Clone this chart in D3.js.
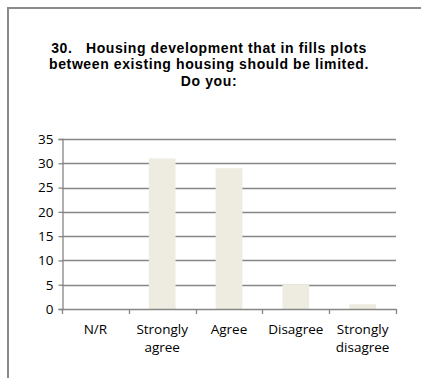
<!DOCTYPE html>
<html>
<head>
<meta charset="utf-8">
<script src="https://cdn.jsdelivr.net/npm/d3@7/dist/d3.min.js"></script>
<style>
  html, body { margin: 0; padding: 0; background: #ffffff; }
  svg { display: block; }
  text { font-family: "Open Sans", "Liberation Sans", sans-serif; fill: #000; }
</style>
</head>
<body>
<svg id="chart" width="421" height="378"></svg>
<script>
// Survey question 30 responses
const categories = ["N/R", "Strongly agree", "Agree", "Disagree", "Strongly disagree"];
const responses = [0, 31, 29, 5, 1];
const yTicks = [0, 5, 10, 15, 20, 25, 30, 35];
const titleLines = [
  "30.   Housing development that in fills plots",
  "between existing housing should be limited.",
  "Do you:"
];
const categoryLines = [["N/R"], ["Strongly", "agree"], ["Agree"], ["Disagree"], ["Strongly", "disagree"]];

const svg = d3.select("#chart");

// Frame around the chart area (continues past the right and bottom edges)
svg.append("rect")
  .attr("x", 8).attr("y", 8)
  .attr("width", 430).attr("height", 400)
  .attr("fill", "none")
  .attr("stroke", "#8a8a8a")
  .attr("stroke-width", 2);

// Title, one text element per line
svg.append("g")
  .selectAll("text")
  .data(titleLines)
  .join("text")
  .attr("x", 209)
  .attr("y", (d, i) => 52.5 + i * 16.5)
  .attr("text-anchor", "middle")
  .style("white-space", "pre")
  .style("font-family", "'Liberation Sans', Arial, sans-serif")
  .style("font-weight", "bold")
  .style("font-size", "14px")
  .style("letter-spacing", "0.6px")
  .text(d => d);

const plot = { left: 62, right: 396, top: 139, bottom: 309 };

const x = d3.scaleBand()
  .domain(categories)
  .range([plot.left, plot.right])
  .paddingInner(0.6)
  .paddingOuter(0.3);

const y = d3.scaleLinear()
  .domain([0, 35])
  .range([plot.bottom, plot.top]);

// Horizontal gridlines
svg.append("g")
  .selectAll("line")
  .data(yTicks.filter(d => d > 0))
  .join("line")
  .attr("x1", plot.left)
  .attr("x2", plot.right)
  .attr("y1", d => Math.round(y(d)) + 0.5)
  .attr("y2", d => Math.round(y(d)) + 0.5)
  .attr("stroke", "#868686")
  .attr("stroke-width", 1.3);

// Bars
svg.append("g")
  .selectAll("rect")
  .data(categories.map((c, i) => ({ c, v: responses[i] })))
  .join("rect")
  .attr("x", d => x(d.c))
  .attr("width", x.bandwidth())
  .attr("y", d => y(d.v))
  .attr("height", d => y(0) - y(d.v))
  .attr("fill", "#eeece1");

// Y axis
const yAxis = d3.axisLeft(y)
  .tickValues(yTicks)
  .tickSize(4)
  .tickPadding(5);
const gy = svg.append("g")
  .attr("transform", `translate(${plot.left + 0.5},0)`)
  .call(yAxis);
gy.select(".domain").attr("stroke", "#868686").attr("stroke-width", 1.3);
gy.selectAll(".tick line").attr("stroke", "#868686").attr("stroke-width", 1.3);
gy.selectAll(".tick text")
  .style("font-family", "'Open Sans', sans-serif")
  .style("font-size", "13.5px")
  .attr("fill", "#000");

// X axis baseline and category boundary ticks
const boundaries = d3.range(categories.length + 1).map(i => plot.left + i * (plot.right - plot.left) / categories.length);
svg.append("line")
  .attr("x1", plot.left).attr("x2", plot.right)
  .attr("y1", plot.bottom + 0.5).attr("y2", plot.bottom + 0.5)
  .attr("stroke", "#868686").attr("stroke-width", 1.3);
svg.append("g")
  .selectAll("line")
  .data(boundaries)
  .join("line")
  .attr("x1", d => Math.round(d) + 0.5)
  .attr("x2", d => Math.round(d) + 0.5)
  .attr("y1", plot.bottom)
  .attr("y2", plot.bottom + 5)
  .attr("stroke", "#868686")
  .attr("stroke-width", 1.3);

// Category labels
const labels = svg.append("g")
  .selectAll("text")
  .data(categories.map((c, i) => ({ c, lines: categoryLines[i] })))
  .join("text")
  .attr("text-anchor", "middle")
  .style("font-size", "13.5px");
labels.each(function(d) {
  const t = d3.select(this);
  const cx = x(d.c) + x.bandwidth() / 2;
  d.lines.forEach((ln, j) => {
    t.append("tspan").attr("x", cx).attr("y", 334 + j * 18).text(ln);
  });
});
</script>
</body>
</html>
